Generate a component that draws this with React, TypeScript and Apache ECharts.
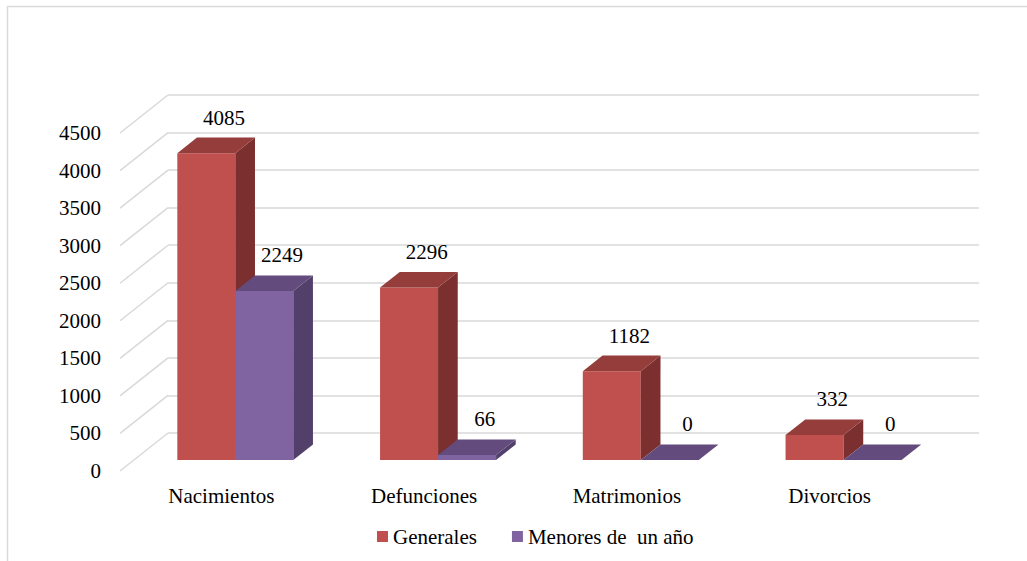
import React, { useEffect, useRef } from "react";
import * as echarts from "echarts";

const categories = ["Nacimientos", "Defunciones", "Matrimonios", "Divorcios"];
const generales = [4085, 2296, 1182, 332];
const menores = [2249, 66, 0, 0];
const seriesNames = ["Generales", "Menores de  un año"];
const yTicks = [0, 500, 1000, 1500, 2000, 2500, 3000, 3500, 4000, 4500];

// generic serif resolves to Liberation Serif (Times-compatible metrics)
const FONT = "serif";
const GRID_COLOR = "#D9D9D9";

// Oblique projection of the floor depth: front edge -> back wall offset (px)
const DEPTH_X = 48;
const DEPTH_Y = -38;
// Where the column block sits inside that depth, and how deep it is
const BAR_FRONT = 0.29;
const BAR_DEPTH = 0.41;
// Column width as a share of the category band
const BAR_RATIO = 0.286;

const faces = [
  { front: "#C0504D", top: "#943D3B", side: "#7B2F2E" },
  { front: "#8064A2", top: "#634C7D", side: "#52406A" },
];

function columnRenderer(seriesIdx: number) {
  return (params: any, api: any) => {
    const cat = api.value(0);
    const val = api.value(1);
    const [cx, yTopFront] = api.coord([cat, val]);
    const yBaseFront = api.coord([cat, 0])[1];
    const band = api.size([1, 0])[0];
    const w = band * BAR_RATIO;
    const ox = DEPTH_X * BAR_FRONT;
    const oy = DEPTH_Y * BAR_FRONT;
    const dx = DEPTH_X * BAR_DEPTH;
    const dy = DEPTH_Y * BAR_DEPTH;
    const x0 = cx - w + seriesIdx * w + ox;
    const x1 = x0 + w;
    const yb = yBaseFront + oy;
    const yt = yTopFront + oy;
    const c = faces[seriesIdx];
    const children: any[] = [];
    if (yb - yt > 0) {
      children.push({
        type: "rect",
        shape: { x: x0, y: yt, width: w, height: yb - yt },
        style: { fill: c.front },
      });
      children.push({
        type: "polygon",
        shape: { points: [[x1, yt], [x1 + dx, yt + dy], [x1 + dx, yb + dy], [x1, yb]] },
        style: { fill: c.side },
      });
    }
    children.push({
      type: "polygon",
      shape: { points: [[x0, yt], [x1, yt], [x1 + dx, yt + dy], [x0 + dx, yt + dy]] },
      style: { fill: c.top },
    });
    children.push({
      type: "text",
      x: x0 + w / 2 + dx - 2,
      y: yt + dy - 20,
      style: {
        text: String(val),
        fontFamily: FONT,
        fontSize: 21,
        fill: "#000",
        align: "center",
        verticalAlign: "middle",
      },
    });
    return { type: "group", children };
  };
}

export default function App() {
  const ref = useRef<HTMLDivElement>(null);

  useEffect(() => {
    if (!ref.current) return;
    const chart = echarts.init(ref.current, null, { renderer: "svg" });
    const labelStyle = { fontFamily: FONT, fontSize: 21, color: "#000" };

    chart.setOption({
      animation: false,
      backgroundColor: "#fff",
      textStyle: { fontFamily: FONT },
      grid: [
        // front plane: axis labels and columns
        { left: 120, top: 133, width: 811, height: 338 },
        // back wall: horizontal gridlines
        { left: 120 + DEPTH_X, top: 133 + DEPTH_Y, width: 811, height: 338 },
      ],
      xAxis: [
        {
          gridIndex: 0,
          type: "category",
          data: categories,
          axisLine: { show: false },
          axisTick: { show: false },
          splitLine: { show: false },
          axisLabel: { ...labelStyle, margin: 14 },
        },
        { gridIndex: 1, type: "category", data: categories, show: false },
      ],
      yAxis: [
        {
          gridIndex: 0,
          type: "value",
          min: 0,
          max: 4500,
          interval: 500,
          axisLine: { show: false },
          axisTick: { show: false },
          splitLine: { show: false },
          axisLabel: { ...labelStyle, margin: 19, formatter: (v: number) => String(v) },
        },
        {
          gridIndex: 1,
          type: "value",
          min: 0,
          max: 4500,
          interval: 500,
          axisLine: { show: false },
          axisTick: { show: false },
          axisLabel: { show: false },
          splitLine: { show: true, lineStyle: { color: GRID_COLOR, width: 1.5 } },
        },
      ],
      legend: {
        data: seriesNames,
        icon: "rect",
        itemWidth: 11,
        itemHeight: 11,
        itemGap: 35,
        left: 372,
        top: 521,
        textStyle: labelStyle,
      },
      graphic: [
        {
          type: "rect",
          shape: { x: 7.5, y: 6.5, width: 1100, height: 600 },
          style: { fill: "none", stroke: GRID_COLOR, lineWidth: 1.5 },
          silent: true,
        },
      ],
      series: [
        {
          // side-wall gridlines joining the value labels to the back wall
          type: "custom",
          xAxisIndex: 0,
          yAxisIndex: 0,
          silent: true,
          z: 1,
          data: yTicks.map((v) => [0, v]),
          renderItem: (params: any, api: any) => {
            const y = api.coord([0, api.value(1)])[1];
            const x = params.coordSys.x;
            return {
              type: "line",
              shape: { x1: x, y1: y, x2: x + DEPTH_X, y2: y + DEPTH_Y },
              style: { stroke: GRID_COLOR, lineWidth: 1.5 },
            };
          },
        },
        {
          name: seriesNames[0],
          type: "custom",
          xAxisIndex: 0,
          yAxisIndex: 0,
          z: 2,
          itemStyle: { color: faces[0].front },
          data: generales.map((v, i) => [i, v]),
          renderItem: columnRenderer(0),
        },
        {
          name: seriesNames[1],
          type: "custom",
          xAxisIndex: 0,
          yAxisIndex: 0,
          z: 2,
          itemStyle: { color: faces[1].front },
          data: menores.map((v, i) => [i, v]),
          renderItem: columnRenderer(1),
        },
      ],
    });

    return () => chart.dispose();
  }, []);

  return (
    <div
      ref={ref}
      style={{ position: "fixed", left: 0, top: 0, width: 1027, height: 561 }}
    />
  );
}
